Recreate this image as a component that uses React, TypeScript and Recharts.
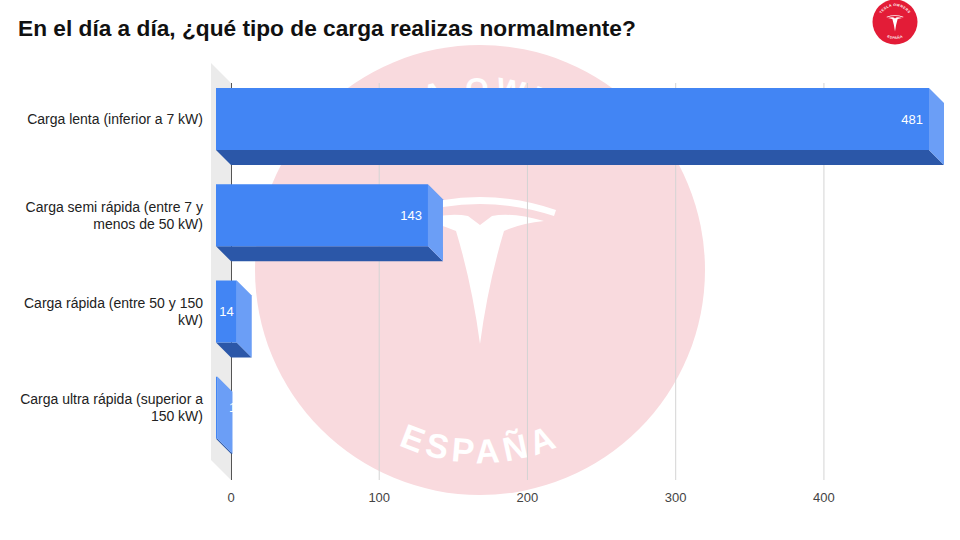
import React from 'react';
import { BarChart, Bar, XAxis, YAxis, CartesianGrid, LabelList } from 'recharts';

const categories = [
  'Carga lenta (inferior a 7 kW)',
  'Carga semi rápida (entre 7 y menos de 50 kW)',
  'Carga rápida (entre 50 y 150 kW)',
  'Carga ultra rápida (superior a 150 kW)',
];
const values = [481, 143, 14, 1];
const xTicks = [0, 100, 200, 300, 400];
const xMax = 481;

const data = categories.map((name, i) => ({ name, value: values[i] }));

const FONT = '"Liberation Sans", Arial, Helvetica, sans-serif';
const DEPTH = 15;

// plot area (back plane) — used by the background layer
const PLOT_LEFT = 231;
const PLOT_TOP = 83;
const PLOT_BOTTOM = 480;

const measureCtx = document.createElement('canvas').getContext('2d');

function wrapText(text: string, maxWidth: number) {
  if (!measureCtx) return [text];
  measureCtx.font = `14px ${FONT}`;
  const words = text.split(' ');
  const lines: string[] = [];
  let cur = '';
  words.forEach((w) => {
    const test = cur ? cur + ' ' + w : w;
    if (cur && measureCtx.measureText(test).width > maxWidth) {
      lines.push(cur);
      cur = w;
    } else {
      cur = test;
    }
  });
  if (cur) lines.push(cur);
  return lines;
}

const CategoryTick = (props: any) => {
  const { x, y, payload } = props;
  const lines = wrapText(payload.value, 192);
  const lh = 17;
  const y0 = y - DEPTH - ((lines.length - 1) * lh) / 2 + 5;
  return (
    <text x={x} y={y0} textAnchor="end" fill="#222" fontSize={14} fontFamily={FONT}>
      {lines.map((l, i) => (
        <tspan key={i} x={x} y={y0 + i * lh}>
          {l}
        </tspan>
      ))}
    </text>
  );
};

const Bar3D = (props: any) => {
  const { x, y, width, height } = props;
  const fx = x - DEPTH;
  const fy = y - DEPTH;
  const bottom = `${fx},${fy + height} ${fx + width},${fy + height} ${x + width},${y + height} ${x},${y + height}`;
  const side = `${fx + width},${fy} ${x + width},${y} ${x + width},${y + height} ${fx + width},${fy + height}`;
  return (
    <g>
      <polygon points={bottom} fill="#2b57a8" />
      <polygon points={side} fill="#6b9ef6" />
      <rect x={fx} y={fy} width={width} height={height} fill="#4285f4" />
    </g>
  );
};

const ValueLabel = (props: any) => {
  const x = Number(props.x);
  const y = Number(props.y);
  const width = Number(props.width);
  const height = Number(props.height);
  const frontRight = x - DEPTH + width;
  const cy = y - DEPTH + height / 2 + 4.5;
  let tx = x - 2;
  let anchor: 'start' | 'end' = 'start';
  if (width > 40) {
    tx = frontRight - 6;
    anchor = 'end';
  } else if (width > 15) {
    tx = frontRight - 3;
    anchor = 'end';
  }
  return (
    <text x={tx} y={cy} fill="#fff" fontSize={13} fontFamily={FONT} textAnchor={anchor}>
      {props.value}
    </text>
  );
};

// Tesla "T" drawn around (0,0) = top of the arc
const T_ARC = 'M -76 16 Q 0 -10 76 16 L 74 22 Q 0 -2 -74 22 Z';
const T_BODY =
  'M -64 27 Q -32 18 -12 22 L 0 31 L 12 22 Q 32 18 64 27 Q 42 29 24 37 Q 8 90 0 150 Q -8 90 -24 37 Q -42 29 -64 27 Z';

const Background = () => {
  const cx = 480;
  const cy = 270;
  const rb = 193;
  const rt = 172;
  return (
    <svg width={960} height={540} style={{ position: 'absolute', left: 0, top: 0 }}>
      <defs>
        <path id="wmBottom" d={`M ${cx - rb} ${cy} A ${rb} ${rb} 0 0 0 ${cx + rb} ${cy}`} />
        <path id="wmTop" d={`M ${cx - rt} ${cy} A ${rt} ${rt} 0 0 1 ${cx + rt} ${cy}`} />
        <path id="lgBottom" d="M 878 22 A 17 17 0 0 0 912 22" />
        <path id="lgTop" d="M 879 22 A 16 16 0 0 1 911 22" />
      </defs>
      <rect x={0} y={0} width={960} height={540} fill="#fff" />
      {/* watermark */}
      <circle cx={cx} cy={cy} r={225} fill="#f9dade" />
      <g transform={`translate(${cx},194)`} fill="#fff">
        <path d={T_ARC} />
        <path d={T_BODY} />
      </g>
      <text fill="#fff" fontSize={34} fontWeight="bold" fontFamily={FONT} letterSpacing={5}>
        <textPath href="#wmBottom" startOffset="50%" textAnchor="middle">
          ESPAÑA
        </textPath>
      </text>
      <text fill="#fff" fontSize={30} fontWeight="bold" fontFamily={FONT} letterSpacing={6}>
        <textPath href="#wmTop" startOffset="50%" textAnchor="middle">
          TESLA OWNERS
        </textPath>
      </text>
      {/* left wall and zero line */}
      <polygon
        points={`${PLOT_LEFT - 20},${PLOT_TOP - 20} ${PLOT_LEFT},${PLOT_TOP} ${PLOT_LEFT},${PLOT_BOTTOM} ${PLOT_LEFT - 20},${PLOT_BOTTOM - 20}`}
        fill="#ebebeb"
      />
      <line x1={PLOT_LEFT + 0.5} y1={PLOT_TOP} x2={PLOT_LEFT + 0.5} y2={PLOT_BOTTOM} stroke="#555" strokeWidth={1} />
      {/* title */}
      <text x={18} y={36} fontSize={22.7} fontWeight="bold" fontFamily={FONT} fill="#111">
        En el día a día, ¿qué tipo de carga realizas normalmente?
      </text>
      {/* small logo */}
      <circle cx={895} cy={22} r={22.5} fill="#e31c37" />
      <g transform="translate(895,15) scale(0.11)" fill="#fff">
        <path d={T_ARC} />
        <path d={T_BODY} />
      </g>
      <text fill="#fff" fontSize={3.5} fontWeight="bold" fontFamily={FONT} letterSpacing={0.4}>
        <textPath href="#lgTop" startOffset="50%" textAnchor="middle">
          TESLA OWNERS
        </textPath>
      </text>
      <text fill="#fff" fontSize={3.5} fontWeight="bold" fontFamily={FONT} letterSpacing={0.4}>
        <textPath href="#lgBottom" startOffset="50%" textAnchor="middle">
          ESPAÑA
        </textPath>
      </text>
    </svg>
  );
};

const App = () => {
  return (
    <div style={{ position: 'absolute', left: 0, top: 0, width: 960, height: 540, fontFamily: FONT }}>
      <Background />
      <div style={{ position: 'absolute', left: 0, top: 0 }}>
        <BarChart
          width={960}
          height={540}
          data={data}
          layout="vertical"
          margin={{ top: PLOT_TOP, right: 16, bottom: 0, left: 0 }}
          barSize={62}
        >
          <CartesianGrid horizontal={false} verticalValues={xTicks.slice(1)} stroke="#d4d4d4" />
          <XAxis
            type="number"
            domain={[0, xMax]}
            ticks={xTicks}
            axisLine={false}
            tickLine={false}
            height={60}
            tickMargin={7}
            tick={{ fill: '#444', fontSize: 13, fontFamily: FONT }}
          />
          <YAxis
            type="category"
            dataKey="name"
            width={231}
            axisLine={false}
            tickLine={false}
            tickSize={0}
            tickMargin={28}
            padding={{ top: 3, bottom: 9 }}
            tick={(p: any) => <CategoryTick {...p} />}
          />
          <Bar dataKey="value" shape={Bar3D} isAnimationActive={false}>
            <LabelList dataKey="value" content={ValueLabel} />
          </Bar>
        </BarChart>
      </div>
    </div>
  );
};

export default App;
